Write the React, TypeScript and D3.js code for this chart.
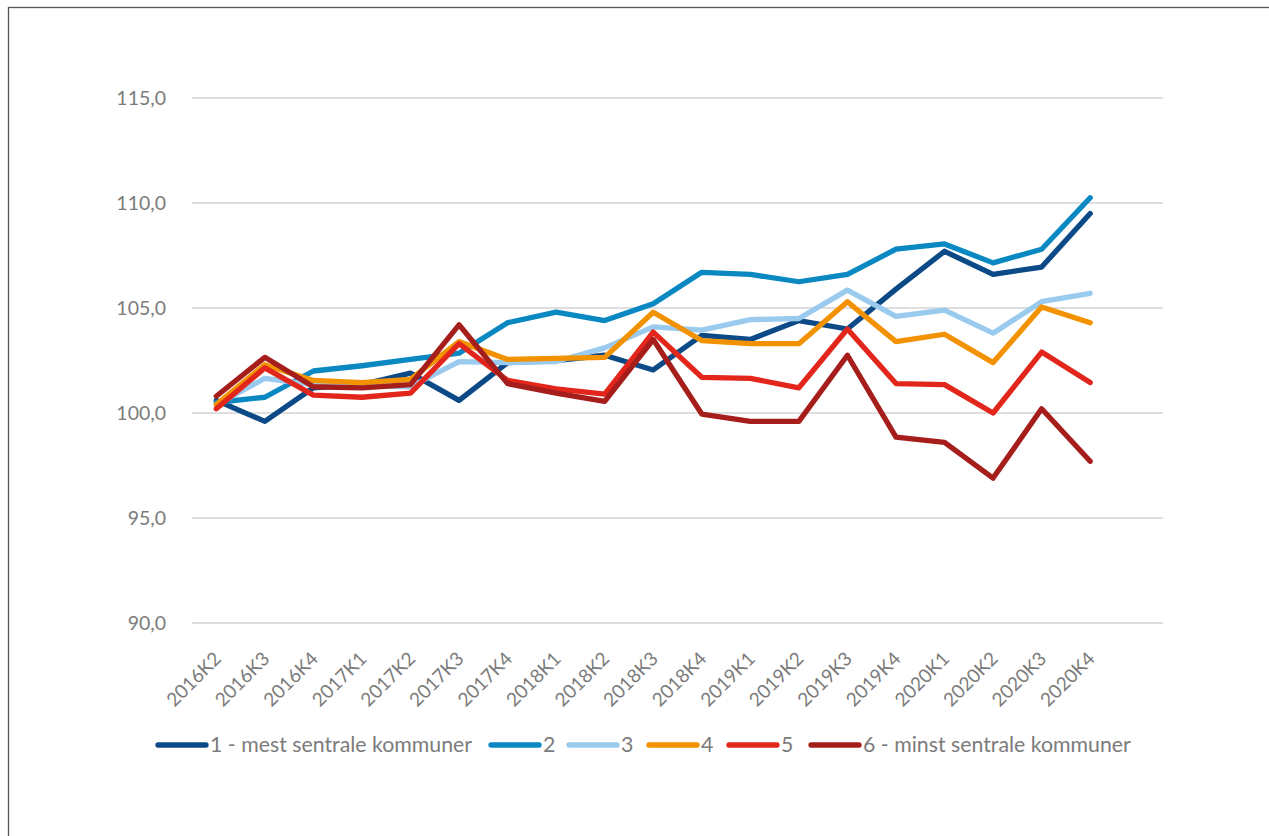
import React from "react";
import * as d3 from "d3";

const categories = [
  "2016K2", "2016K3", "2016K4", "2017K1", "2017K2", "2017K3", "2017K4",
  "2018K1", "2018K2", "2018K3", "2018K4", "2019K1", "2019K2", "2019K3",
  "2019K4", "2020K1", "2020K2", "2020K3", "2020K4",
];

const yTicks = [90, 95, 100, 105, 110, 115];

const series1 = [100.6, 99.6, 101.2, 101.35, 101.9, 100.6, 102.4, 102.5, 102.75, 102.05, 103.7, 103.5, 104.4, 104.0, 105.9, 107.7, 106.6, 106.95, 109.5];
const series2 = [100.5, 100.75, 102.0, 102.25, 102.55, 102.85, 104.3, 104.8, 104.4, 105.2, 106.7, 106.6, 106.25, 106.6, 107.8, 108.05, 107.15, 107.8, 110.25];
const series3 = [100.4, 101.65, 101.35, 101.3, 101.25, 102.45, 102.4, 102.45, 103.1, 104.1, 103.95, 104.45, 104.5, 105.85, 104.6, 104.9, 103.8, 105.3, 105.7];
const series4 = [100.4, 102.3, 101.55, 101.45, 101.6, 103.4, 102.55, 102.6, 102.65, 104.8, 103.45, 103.3, 103.3, 105.3, 103.4, 103.75, 102.4, 105.05, 104.3];
const series5 = [100.2, 102.15, 100.85, 100.75, 100.95, 103.3, 101.55, 101.15, 100.9, 103.85, 101.7, 101.65, 101.2, 104.0, 101.4, 101.35, 100.0, 102.9, 101.45];
const series6 = [100.8, 102.65, 101.25, 101.2, 101.35, 104.2, 101.4, 100.95, 100.55, 103.5, 99.95, 99.6, 99.6, 102.75, 98.85, 98.6, 96.9, 100.2, 97.7];

const seriesNames = [
  "1 - mest sentrale kommuner",
  "2",
  "3",
  "4",
  "5",
  "6 - minst sentrale kommuner",
];
const seriesValues = [series1, series2, series3, series4, series5, series6];
const seriesColors = ["#0b4a86", "#0a88c2", "#9acbee", "#f39200", "#e2261b", "#a61e1b"];

const FONT = "Lato, 'Open Sans', sans-serif";
const TEXT_COLOR = "#7b7b7b";

export default function App() {
  const W = 1269;
  const H = 836;
  const left = 192;
  const right = 1163;
  const top = 98;
  const bottom = 623;

  // Excel-style category axis with one trailing empty slot
  const x = d3
    .scaleBand<string>()
    .domain([...categories, "__empty__"])
    .range([left, right]);
  const cx = (c: string) => (x(c) as number) + x.bandwidth() / 2;

  const y = d3.scaleLinear().domain([90, 115]).range([bottom, top]);

  const line = d3
    .line<number>()
    .x((_, i) => cx(categories[i]))
    .y((d) => y(d));

  const fmt = (v: number) => v.toFixed(1).replace(".", ",");

  const legendX = [156, 489, 567, 647, 727, 809];
  const legendY = 745;

  return (
    <svg
      width={W}
      height={H}
      style={{ position: "absolute", left: 0, top: 0, background: "#fff" }}
      fontFamily={FONT}
    >
      <rect x={0} y={0} width={W} height={H} fill="#fff" />
      <rect x={8.5} y={7.5} width={1400} height={1000} fill="none" stroke="#555" strokeWidth={1.3} />

      {yTicks.map((t) => (
        <g key={t}>
          <line x1={left} x2={right} y1={y(t)} y2={y(t)} stroke="#dedede" strokeWidth={1.8} />
          <text
            x={166}
            y={y(t)}
            dy="0.35em"
            textAnchor="end"
            fontSize={19.5}
            fill={TEXT_COLOR}
          >
            {fmt(t)}
          </text>
        </g>
      ))}

      {categories.map((c) => (
        <text
          key={c}
          transform={`translate(${cx(c) + 6},${bottom + 37}) rotate(-45)`}
          textAnchor="end"
          fontSize={19}
          fill={TEXT_COLOR}
        >
          {c}
        </text>
      ))}

      {seriesValues.map((vals, i) => (
        <path
          key={i}
          d={line(vals) || ""}
          fill="none"
          stroke={seriesColors[i]}
          strokeWidth={5.3}
          strokeLinejoin="round"
          strokeLinecap="round"
        />
      ))}

      {seriesNames.map((name, i) => (
        <g key={name} transform={`translate(${legendX[i]},${legendY})`}>
          <line x1={2} x2={50} y1={0} y2={0} stroke={seriesColors[i]} strokeWidth={5.3} strokeLinecap="round" />
          <text x={54} y={0} dy="0.35em" fontSize={21.3} fill={TEXT_COLOR}>
            {name}
          </text>
        </g>
      ))}
    </svg>
  );
}
